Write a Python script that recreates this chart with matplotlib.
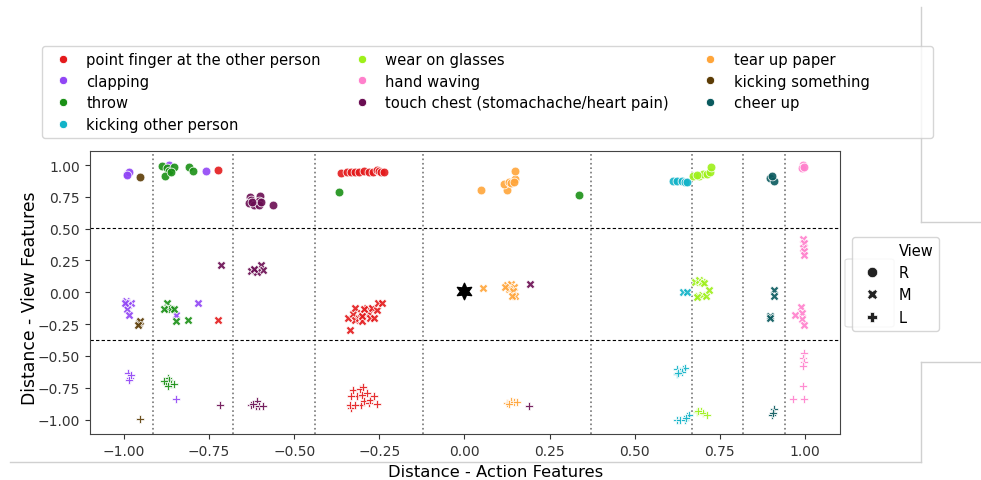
import numpy as np
import matplotlib
matplotlib.use("Agg")
import matplotlib.pyplot as plt
from matplotlib.lines import Line2D
from matplotlib.patches import FancyBboxPatch

# actions in legend order, colours
actions = ["point finger at the other person", "clapping", "throw", "kicking other person",
           "wear on glasses", "hand waving", "touch chest (stomachache/heart pain)",
           "tear up paper", "kicking something", "cheer up"]
colors = ["#e41a1c", "#9146f5", "#1a9016", "#12b3c8",
          "#9ef01a", "#ff80cc", "#6a0d52",
          "#ffa53a", "#5c3c05", "#0a5a5e"]

views = ["R", "M", "L"]
view_markers = ["o", "X", "P"]

# points per action and view: (distance action, distance view)
point_finger = {
    "R": [(-0.723, 0.958), (-0.362, 0.937), (-0.346, 0.945), (-0.334, 0.943), (-0.320, 0.947),
          (-0.310, 0.945), (-0.295, 0.950), (-0.281, 0.947), (-0.268, 0.943), (-0.256, 0.963),
          (-0.251, 0.955), (-0.246, 0.947), (-0.237, 0.947)],
    "M": [(-0.724, -0.215), (-0.336, -0.297), (-0.341, -0.205), (-0.327, -0.173), (-0.322, -0.126),
          (-0.320, -0.218), (-0.310, -0.199), (-0.305, -0.160), (-0.300, -0.226), (-0.295, -0.173),
          (-0.290, -0.147), (-0.285, -0.120), (-0.280, -0.165), (-0.276, -0.205), (-0.271, -0.120),
          (-0.266, -0.199), (-0.258, -0.142), (-0.254, -0.081), (-0.243, -0.087), (-0.295, -0.134),
          (-0.300, -0.187)],
    "L": [(-0.334, -0.908), (-0.336, -0.882), (-0.327, -0.764), (-0.315, -0.816), (-0.307, -0.759),
          (-0.305, -0.882), (-0.297, -0.743), (-0.295, -0.856), (-0.287, -0.790), (-0.280, -0.869),
          (-0.276, -0.843), (-0.266, -0.816), (-0.256, -0.874), (-0.334, -0.816), (-0.320, -0.882),
          (-0.300, -0.803)],
}
clapping = {
    "R": [(-0.988, 0.937), (-0.992, 0.930), (-0.985, 0.942), (-0.990, 0.925), (-0.868, 1.000),
          (-0.760, 0.953)],
    "M": [(-0.994, -0.068), (-0.979, -0.081), (-0.989, -0.102), (-0.991, -0.134), (-0.984, -0.181),
          (-0.997, -0.085), (-0.782, -0.081), (-0.848, -0.181)],
    "L": [(-0.989, -0.632), (-0.981, -0.672), (-0.984, -0.690), (-0.979, -0.646), (-0.848, -0.835)],
}
throw = {
    "R": [(-0.887, 0.995), (-0.874, 0.974), (-0.867, 0.955), (-0.852, 0.987), (-0.880, 0.911),
          (-0.862, 0.947), (-0.810, 0.987), (-0.796, 0.953), (-0.367, 0.790), (0.336, 0.764)],
    "M": [(-0.875, -0.081), (-0.870, -0.124), (-0.862, -0.134), (-0.854, -0.134), (-0.882, -0.128),
          (-0.848, -0.226), (-0.811, -0.215)],
    "L": [(-0.877, -0.711), (-0.870, -0.672), (-0.867, -0.690), (-0.862, -0.724), (-0.854, -0.717),
          (-0.882, -0.698), (-0.872, -0.732)],
}
kicking_other = {
    "R": [(0.614, 0.876), (0.624, 0.874), (0.638, 0.871), (0.648, 0.866), (0.655, 0.864)],
    "M": [(0.643, 0.002), (0.653, 0.002)],
    "L": [(0.624, -0.601), (0.633, -0.619), (0.643, -0.601), (0.648, -0.593), (0.624, -0.638),
          (0.638, -0.628), (0.628, -0.632), (0.624, -1.000), (0.633, -1.005), (0.648, -1.000),
          (0.655, -0.974), (0.661, -0.961), (0.651, -0.987)],
}
glasses = {
    "R": [(0.672, 0.916), (0.690, 0.911), (0.702, 0.927), (0.712, 0.929), (0.721, 0.942),
          (0.723, 0.982), (0.684, 0.921)],
    "M": [(0.677, 0.081), (0.690, 0.097), (0.697, 0.081), (0.704, 0.076), (0.687, -0.029),
          (0.697, -0.024), (0.710, -0.029), (0.718, 0.016), (0.682, -0.034)],
    "L": [(0.682, -0.942), (0.694, -0.934), (0.700, -0.948), (0.712, -0.961), (0.687, -0.934)],
}
hand_waving = {
    "R": [(0.995, 1.002), (0.993, 0.974), (0.997, 0.982)],
    "M": [(0.995, 0.417), (0.998, 0.386), (0.995, 0.352), (0.997, 0.325), (0.998, 0.291),
          (0.990, -0.113), (0.993, -0.165), (0.993, -0.207), (0.997, -0.260), (0.971, -0.181)],
    "L": [(0.997, -0.475), (0.995, -0.514), (0.997, -0.549), (0.995, -0.580), (0.995, -0.738),
          (0.997, -0.837), (0.966, -0.837)],
}
touch_chest = {
    "R": [(-0.630, 0.750), (-0.601, 0.754), (-0.628, 0.727), (-0.603, 0.719), (-0.633, 0.698),
          (-0.618, 0.685), (-0.603, 0.687), (-0.562, 0.685), (-0.598, 0.706), (-0.623, 0.706)],
    "M": [(-0.714, 0.213), (-0.618, 0.176), (-0.598, 0.213), (-0.593, 0.176), (-0.628, 0.168),
          (-0.608, 0.160), (-0.618, 0.187), (0.194, 0.063)],
    "L": [(-0.718, -0.887), (-0.626, -0.882), (-0.613, -0.895), (-0.603, -0.890), (-0.593, -0.895),
          (-0.610, -0.856), (-0.620, -0.874), (0.189, -0.890)],
}
tear_paper = {
    "R": [(0.050, 0.806), (0.125, 0.800), (0.117, 0.850), (0.130, 0.864), (0.138, 0.858),
          (0.148, 0.890), (0.150, 0.955), (0.145, 0.864)],
    "M": [(0.055, 0.037), (0.125, 0.055), (0.138, 0.063), (0.145, 0.045), (0.130, 0.029),
          (0.143, 0.010), (0.150, -0.029), (0.140, -0.029), (0.120, 0.045)],
    "L": [(0.125, -0.869), (0.137, -0.856), (0.145, -0.864), (0.155, -0.864), (0.130, -0.874)],
}
kicking_something = {
    "R": [(-0.953, 0.908)],
    "M": [(-0.955, -0.244), (-0.952, -0.226), (-0.958, -0.260)],
    "L": [(-0.953, -0.995)],
}
cheer_up = {
    "R": [(0.899, 0.895), (0.909, 0.874), (0.902, 0.911)],
    "M": [(0.910, 0.016), (0.909, -0.029), (0.897, -0.187), (0.899, -0.199)],
    "L": [(0.910, -0.916), (0.902, -0.961), (0.905, -0.948)],
}
action_points = [point_finger, clapping, throw, kicking_other, glasses, hand_waving,
                 touch_chest, tear_paper, kicking_something, cheer_up]

# reference sample (black star)
ref_x = [0.0]
ref_y = [0.01]

# separators
v_lines = [-0.916, -0.681, -0.440, -0.123, 0.372, 0.669, 0.818, 0.941]
h_lines = [0.504, -0.378]

fig = plt.figure(figsize=(9.81, 4.81), dpi=100)
ax = fig.add_axes([0.0917, 0.0956, 0.7645, 0.5884])

for v in v_lines:
    ax.axvline(v, color="#777777", linestyle=":", linewidth=1.2, zorder=1)
for h in h_lines:
    ax.axhline(h, color="black", linestyle="--", linewidth=0.8, dashes=(3, 2), zorder=1)

for pts, col in zip(action_points, colors):
    for view, mk in zip(views, view_markers):
        xy = np.array(pts[view])
        ax.scatter(xy[:, 0], xy[:, 1], s=40, marker=mk, color=col,
                   edgecolor="white", linewidth=0.6, alpha=0.9, zorder=3)

ax.scatter(ref_x, ref_y, s=140, marker=(6, 1, 0), color="black", zorder=4)

ax.set_xlim(-1.1, 1.103)
ax.set_ylim(-1.113, 1.11)
ax.set_xticks([-1.0, -0.75, -0.5, -0.25, 0.0, 0.25, 0.5, 0.75, 1.0])
ax.set_yticks([-1.0, -0.75, -0.5, -0.25, 0.0, 0.25, 0.5, 0.75, 1.0])
ax.tick_params(labelsize=10, colors="#333333")
for sp in ax.spines.values():
    sp.set_color("#444444")
ax.set_xlabel("Distance - Action Features", fontsize=11.8)
ax.set_ylabel("Distance - View Features", fontsize=12.4)
ax.xaxis.set_label_coords(0.541, -0.105)
ax.yaxis.set_label_coords(-0.068, 0.485)

# action legend on top (trailing spaces widen the last column like the original box)
handles = [Line2D([], [], linestyle="", marker="o", markersize=6, color=c,
                  markeredgecolor="white", markeredgewidth=0.6) for c in colors]
labels = list(actions)
labels[8] = labels[8] + " " * 12
fig.legend(handles, labels, ncol=3, loc="upper left",
           bbox_to_anchor=(42 / 981, 1 - 47 / 481),
           fontsize=10.6, frameon=True, labelspacing=0.45, handletextpad=0.6,
           columnspacing=1.8, borderaxespad=0.0)

# faint box behind the view legend
fig.add_artist(FancyBboxPatch((845 / 981, 1 - 328 / 481), 0.05, 68 / 481,
                              boxstyle="round,pad=0,rounding_size=0.004",
                              transform=fig.transFigure, facecolor="none",
                              edgecolor="#dddddd", linewidth=0.8))

# view legend
v_handles = [Line2D([], [], linestyle="", marker="")]
v_handles += [Line2D([], [], linestyle="", marker=m, markersize=7.5, color="#222222",
                     markeredgecolor="white", markeredgewidth=0.5) for m in view_markers]
fig.legend(v_handles, ["View"] + views, loc="upper left",
           bbox_to_anchor=(852 / 981, 1 - 238 / 481), fontsize=10.5, frameon=True,
           borderaxespad=0.0, labelspacing=0.5)

# notebook frame lines around the output
gray = "#d0d0d0"
fig.add_artist(Line2D([921 / 981, 921 / 981], [1 - 8 / 481, 1 - 223 / 481], color=gray, lw=1))
fig.add_artist(Line2D([921 / 981, 1.0], [1 - 223 / 481, 1 - 223 / 481], color=gray, lw=1))
fig.add_artist(Line2D([921 / 981, 1.0], [1 - 363 / 481, 1 - 363 / 481], color=gray, lw=1))
fig.add_artist(Line2D([921 / 981, 921 / 981], [1 - 363 / 481, 1 - 463 / 481], color=gray, lw=1))
fig.add_artist(Line2D([10 / 981, 921 / 981], [1 - 463 / 481, 1 - 463 / 481], color=gray, lw=1))

fig.savefig("out.png", dpi=100)
